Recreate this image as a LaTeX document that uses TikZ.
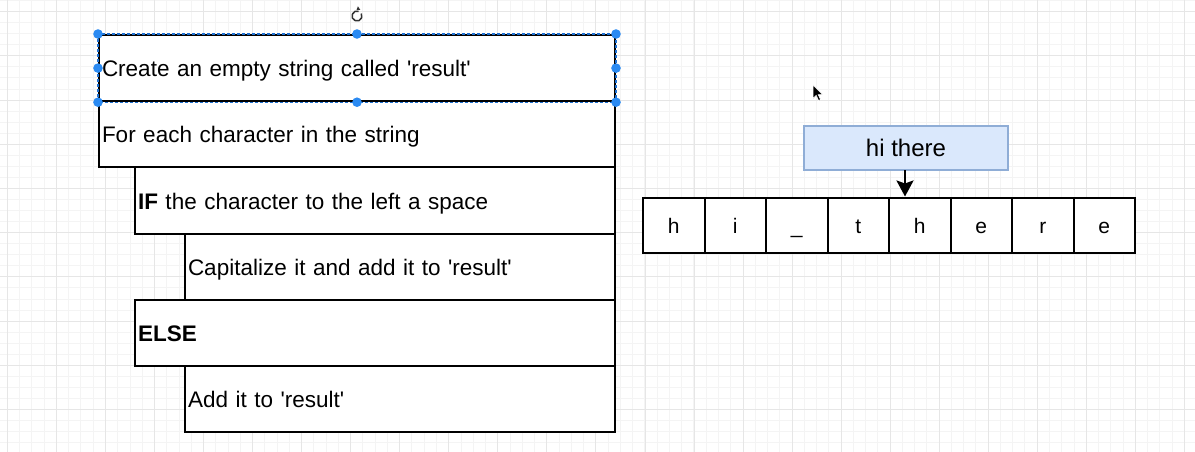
\documentclass[tikz,border=0pt]{standalone}
\usepackage{fontspec}
\setmainfont{Liberation Sans}
\usetikzlibrary{arrows.meta}
\definecolor{gridmajor}{HTML}{E6E6E6}
\definecolor{gridminor}{HTML}{F4F4F4}
\definecolor{handle}{HTML}{2A8AF2}
\definecolor{selblue}{HTML}{1E6FD0}
\definecolor{hifill}{HTML}{DAE8FC}
\definecolor{hidraw}{HTML}{8FADD6}
\newcommand{\sq}{\textquotesingle}
\tikzset{
  row/.style={draw=black, line width=2pt, fill=white, minimum height=66.2pt,
    inner xsep=3pt, inner ysep=0pt, align=left, anchor=north west,
    text height=17pt, text depth=0pt,
    font=\fontsize{22.5}{26}\selectfont},
  cell/.style={draw=black, line width=2pt, fill=white, minimum width=61.5pt,
    minimum height=55pt, inner sep=0pt, text height=16.6pt, text depth=0pt,
    font=\fontsize{21}{24}\selectfont},
  hdot/.style={fill=handle, draw=none},
}
\begin{document}
\begin{tikzpicture}[x=1pt,y=-1pt]
\useasboundingbox (0,0) rectangle (1195,452);
\fill[white] (0,0) rectangle (1195,452);
% grid
\foreach \i in {-4,...,100} {
  \draw[gridminor, line width=0.8pt] ({7.3+12.26*\i},0) -- ({7.3+12.26*\i},452);
}
\foreach \j in {-4,...,44} {
  \draw[gridminor, line width=0.8pt] (0,{11.6+11.05*\j}) -- (1195,{11.6+11.05*\j});
}
\foreach \i in {0,...,24} {
  \draw[gridmajor, line width=0.9pt] ({7.3+49.05*\i},0) -- ({7.3+49.05*\i},452);
}
\foreach \j in {0,...,10} {
  \draw[gridmajor, line width=0.9pt] (0,{11.6+44.2*\j}) -- (1195,{11.6+44.2*\j});
}
% left stack
\node[row, text width=510pt] (r2) at (98,100.2) {For each character in the string};
\node[row, text width=474pt] (r3) at (134,166.4) {\textbf{IF} the character to the left a space};
\node[row, text width=424pt] (r4) at (184,232.6) {Capitalize it and add it to \sq result\sq};
\node[row, text width=474pt] (r5) at (134,298.8) {\textbf{ELSE}};
\node[row, text width=424pt] (r6) at (184,365) {Add it to \sq result\sq};
\node[row, text width=510pt] (r1) at (98,34) {Create an empty string called \sq result\sq};
% selection overlay
\draw[selblue, line width=1.3pt, dash pattern=on 3pt off 2pt] (r1.north west) rectangle (r1.south east);
\foreach \p in {north west,north,north east,west,east,south west,south,south east}
  \fill[hdot] (r1.\p) circle (4.8pt);
% rotate icon
\coordinate (rot) at (r1.north |- 0,16);
\draw[black!80, line width=1.5pt] (rot) ++(70:5pt) arc[start angle=70, end angle=390, radius=5pt];
\fill[black!80] (rot) ++(62:7pt) -- ++(-3.8pt,-0.3pt) -- ++(1.4pt,3.8pt) -- cycle;
% cells
\foreach \c [count=\i] in {h,i,\char95,t,h,e,r,e} {
  \node[cell] (c\i) at ({643+61.5*(\i-0.5)},225) {\c};
}
% hi there box
\node[draw=hidraw, fill=hifill, line width=1.5pt, minimum width=204pt, minimum height=44pt,
  font=\fontsize{24}{28}\selectfont] (hi) at (906,148) {hi there};
\coordinate (arrtop) at (905,170);
\draw[line width=2.6pt, -{Stealth[length=16pt,width=17pt,inset=3pt]}] (arrtop) -- (arrtop |- c5.north);
% cursor
\filldraw[black, draw=white, line width=0.6pt] (813,85) -- (813,98.5) -- (816.2,95.4) -- (818.6,100.6) -- (820.6,99.6) -- (818.2,94.6) -- (822.6,94.6) -- cycle;
\end{tikzpicture}
\end{document}
